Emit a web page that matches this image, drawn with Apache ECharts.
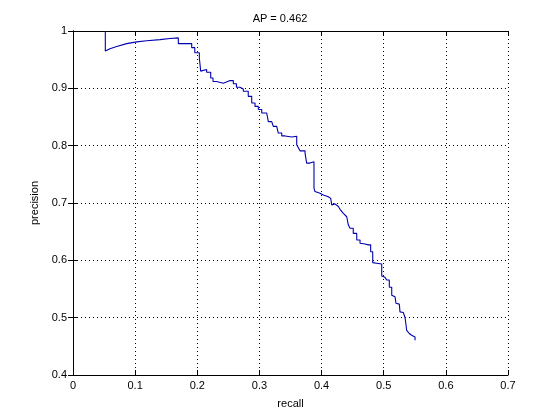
<!DOCTYPE html>
<html>
<head>
<meta charset="utf-8">
<script src="https://cdn.jsdelivr.net/npm/echarts@6/dist/echarts.min.js"></script>
<style>html,body{margin:0;padding:0;background:#fff;}#c{width:560px;height:420px;}</style>
</head>
<body>
<div id="c"></div>
<script>
var titleText = 'AP = 0.462';
var xTicks = [0, 0.1, 0.2, 0.3, 0.4, 0.5, 0.6, 0.7];
var yTicks = [0.4, 0.5, 0.6, 0.7, 0.8, 0.9, 1];
var recall = [
  0.052, 0.052, 0.0595, 0.0703, 0.0864, 0.1025, 0.1186, 0.140, 0.156, 0.1695,
  0.1695, 0.191, 0.191, 0.196, 0.196, 0.2033, 0.2033, 0.2055, 0.2055, 0.215,
  0.215, 0.2216, 0.2216, 0.2253, 0.2253, 0.231, 0.231, 0.242, 0.242, 0.2527,
  0.258, 0.258, 0.263, 0.263, 0.2687, 0.2687, 0.274, 0.274, 0.282, 0.282,
  0.2876, 0.2876, 0.2929, 0.2929, 0.2982, 0.2982, 0.3037, 0.3037, 0.3117, 0.3143,
  0.3143, 0.3198, 0.3198, 0.3223, 0.3223, 0.3278, 0.3278, 0.3304, 0.3304, 0.3359,
  0.3359, 0.3412, 0.3412, 0.352, 0.352, 0.36, 0.36, 0.3653, 0.3734, 0.3734,
  0.376, 0.376, 0.3814, 0.3814, 0.3878, 0.3878, 0.3894, 0.3975, 0.4028, 0.4108,
  0.4147, 0.4163, 0.4163, 0.4216, 0.427, 0.4297, 0.435, 0.4405, 0.443, 0.443,
  0.4458, 0.451, 0.451, 0.4566, 0.4566, 0.4619, 0.4619, 0.470, 0.4752, 0.479,
  0.479, 0.4823, 0.4823, 0.4887, 0.4968, 0.4968, 0.5021, 0.5048, 0.5048, 0.509,
  0.509, 0.5129, 0.5129, 0.5182, 0.5198, 0.5198, 0.5251, 0.5262, 0.5262, 0.5315,
  0.5343, 0.5343, 0.537, 0.537, 0.5412, 0.545, 0.5504, 0.5504
];
var precision = [
  1.000, 0.965, 0.969, 0.973, 0.978, 0.981, 0.983, 0.985, 0.987, 0.988,
  0.978, 0.978, 0.971, 0.971, 0.962, 0.962, 0.953, 0.953, 0.930, 0.933,
  0.928, 0.928, 0.918, 0.918, 0.912, 0.912, 0.909, 0.909, 0.911, 0.9135,
  0.9135, 0.908, 0.908, 0.902, 0.902, 0.899, 0.899, 0.895, 0.895, 0.886,
  0.886, 0.8745, 0.8745, 0.8685, 0.8685, 0.863, 0.863, 0.857, 0.857, 0.857,
  0.842, 0.842, 0.8395, 0.8395, 0.8336, 0.8336, 0.831, 0.831, 0.822, 0.822,
  0.817, 0.817, 0.815, 0.815, 0.8165, 0.8165, 0.8016, 0.791, 0.791, 0.787,
  0.787, 0.7696, 0.7696, 0.772, 0.772, 0.726, 0.720, 0.717, 0.714, 0.711,
  0.708, 0.708, 0.6967, 0.6985, 0.694, 0.689, 0.682, 0.676, 0.6734, 0.662,
  0.656, 0.656, 0.647, 0.647, 0.6355, 0.6355, 0.6297, 0.6285, 0.627, 0.627,
  0.615, 0.615, 0.596, 0.595, 0.5935, 0.5726, 0.5703, 0.5703, 0.5656, 0.5656,
  0.553, 0.553, 0.5393, 0.5364, 0.5364, 0.525, 0.5236, 0.5236, 0.5101, 0.509,
  0.509, 0.5003, 0.5003, 0.478, 0.4724, 0.4694, 0.4664, 0.4607
];

var pts = recall.map(function (r, i) { return [r, precision[i]]; });
var font = 'Liberation Sans, Arial, sans-serif';
var fmt = function (v) { return String(+(+v).toFixed(1)); };

var chart = echarts.init(document.getElementById('c'), null, {renderer: 'canvas'});
chart.setOption({
  animation: false,
  backgroundColor: '#ffffff',
  title: {
    text: titleText, left: 'center', top: 8,
    textStyle: {fontFamily: font, fontSize: 11, fontWeight: 'normal', color: '#000'}
  },
  grid: {left: 73, right: 52, top: 31, bottom: 45, show: false},
  xAxis: [{
    type: 'value', min: xTicks[0], max: xTicks[xTicks.length - 1], interval: 0.1,
    name: 'recall', nameLocation: 'middle', nameGap: 23,
    nameTextStyle: {fontFamily: font, fontSize: 11, color: '#000'},
    axisLine: {show: true, lineStyle: {color: '#000', width: 1}},
    axisTick: {show: true, inside: true, length: 5, lineStyle: {color: '#000'}},
    axisLabel: {fontFamily: font, fontSize: 11, color: '#000', margin: 5, formatter: fmt},
    splitLine: {show: true, lineStyle: {color: '#000', type: [1, 3], width: 1}}
  }, {
    type: 'value', position: 'top', min: xTicks[0], max: xTicks[xTicks.length - 1], interval: 0.1,
    axisLine: {show: true, lineStyle: {color: '#000', width: 1}},
    axisTick: {show: true, inside: true, length: 5, lineStyle: {color: '#000'}},
    axisLabel: {show: false}, splitLine: {show: false}
  }],
  yAxis: [{
    type: 'value', min: yTicks[0], max: yTicks[yTicks.length - 1], interval: 0.1,
    name: 'precision', nameLocation: 'middle', nameGap: 28,
    nameTextStyle: {fontFamily: font, fontSize: 11, color: '#000'},
    axisLine: {show: true, lineStyle: {color: '#000', width: 1}},
    axisTick: {show: true, inside: true, length: 5, lineStyle: {color: '#000'}},
    axisLabel: {fontFamily: font, fontSize: 11, color: '#000', margin: 6, formatter: fmt},
    splitLine: {show: true, lineStyle: {color: '#000', type: [1, 3], width: 1}}
  }, {
    type: 'value', position: 'right', min: yTicks[0], max: yTicks[yTicks.length - 1], interval: 0.1,
    axisLine: {show: true, lineStyle: {color: '#000', width: 1}},
    axisTick: {show: true, inside: true, length: 5, lineStyle: {color: '#000'}},
    axisLabel: {show: false}, splitLine: {show: false}
  }],
  series: [{
    type: 'line', xAxisIndex: 0, yAxisIndex: 0, data: pts,
    showSymbol: false, smooth: false,
    lineStyle: {color: '#0000b0', width: 1.1}
  }]
});
</script>
</body>
</html>
